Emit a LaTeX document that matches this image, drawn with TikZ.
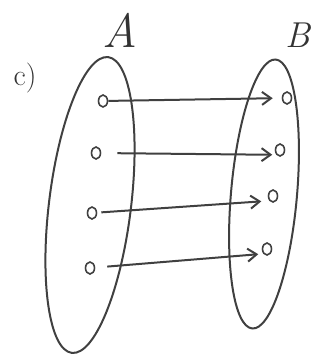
\documentclass[tikz,border=0pt]{standalone}
\usetikzlibrary{shapes.geometric, arrows.meta}
\begin{document}
\begin{tikzpicture}[x=1pt, y=-1pt, >={Straight Barb[length=9pt,width=13pt]}, line width=2pt,
    pencil/.style={draw=black!75},
    spot/.style={pencil, line width=1.6pt, ellipse, minimum width=9pt, minimum height=12pt, inner sep=0pt},
    handtext/.style={text=black!80, inner sep=0pt}]
    \useasboundingbox (0,0) rectangle (334,358);

    \node[pencil, ellipse, minimum width=82pt, minimum height=298pt, rotate=-7] (setA) at (90,205) {};
    \node[pencil, ellipse, minimum width=66pt, minimum height=270pt, rotate=-5] (setB) at (264,194) {};

    \node[handtext, font=\fontsize{48}{48}\selectfont\itshape] (nameA) at (120,30) {A};
    \node[handtext, font=\fontsize{36}{36}\selectfont\itshape] (nameB) at (298,35) {B};
    \node[handtext, font=\fontsize{30}{30}\selectfont] (part) at (25,78) {c)};

    \node[spot] (a1) at (103,101) {};
    \node[spot] (a2) at (96,153) {};
    \node[spot] (a3) at (92,213) {};
    \node[spot] (a4) at (90,268) {};
    \node[spot] (b1) at (287,98) {};
    \node[spot] (b2) at (280,150) {};
    \node[spot] (b3) at (273,196) {};
    \node[spot] (b4) at (267,249) {};

    \draw[pencil, ->, shorten >=9pt] (a1) -- (b1);
    \draw[pencil, ->, shorten <=16pt, shorten >=4pt] (a2) -- (b2.south west);
    \draw[pencil, ->, shorten <=4pt, shorten >=8pt] (a3) -- (b3.south west);
    \draw[pencil, ->, shorten <=12pt, shorten >=5pt] (a4) -- (b4.south west);
\end{tikzpicture}
\end{document}
